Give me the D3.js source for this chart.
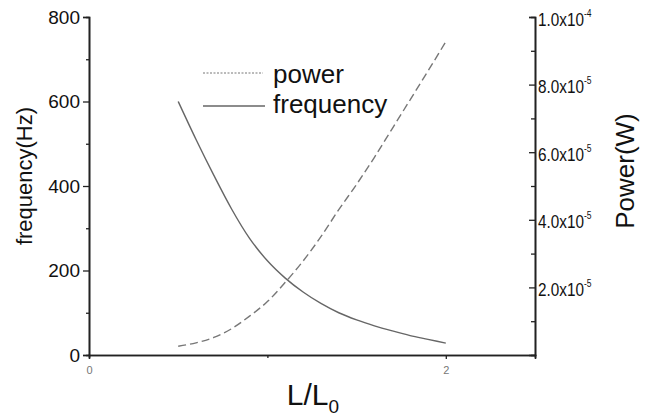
<!DOCTYPE html>
<html>
<head>
<meta charset="utf-8">
<script src="https://cdn.jsdelivr.net/npm/d3@7"></script>
<style>
  body { margin: 0; background: #fff; }
  text { font-family: "Liberation Sans", Arial, sans-serif; }
</style>
</head>
<body>
<div id="chart"></div>
<script>
"use strict"

let svgWidth = 656
let svgHeight = 419

/* data */
let ratio = [0.5, 0.6, 0.7, 0.8, 0.9, 1.0, 1.1, 1.2, 1.3, 1.4, 1.5, 1.6, 1.7, 1.8, 1.9, 2.0]
let frequency = [600, 510, 425, 345, 276, 223, 182, 149, 122, 100, 83, 69, 57, 46, 37, 28]
let power = [2.6e-6, 3.6e-6, 5.2e-6, 7.8e-6, 1.15e-5, 1.58e-5, 2.15e-5, 2.78e-5, 3.5e-5, 4.3e-5,
             5.05e-5, 5.85e-5, 6.7e-5, 7.55e-5, 8.4e-5, 9.27e-5]

let xTicks = [0, 2]
let freqTicks = [0, 200, 400, 600, 800]
let powerTicks = [2e-5, 4e-5, 6e-5, 8e-5, 1e-4]
let powerLabels = [["2.0x10", "-5"], ["4.0x10", "-5"], ["6.0x10", "-5"], ["8.0x10", "-5"], ["1.0x10", "-4"]]

let svg = d3.select("#chart")
  .append("svg")
  .attr("width", svgWidth)
  .attr("height", svgHeight)

/* scales */
let xScale = d3.scaleLinear().domain([0, 2.5]).range([89, 535])
let yFreq = d3.scaleLinear().domain([0, 800]).range([355, 17])
let yPower = d3.scaleLinear().domain([0, 1e-4]).range([355, 17])

let axisColor = "#222"

function styleAxis(g) {
  g.select(".domain").attr("stroke", axisColor).attr("stroke-width", 1.6)
  g.selectAll(".tick line").attr("stroke", axisColor).attr("stroke-width", 1.3)
}

/* minor ticks first so majors sit on top */
svg.append("g")
  .attr("transform", "translate(89,0)")
  .call(d3.axisLeft(yFreq).tickValues([100, 300, 500, 700]).tickSize(3).tickFormat(""))
  .call(styleAxis)

svg.append("g")
  .attr("transform", "translate(535,0)")
  .call(d3.axisRight(yPower).tickValues([1e-5, 3e-5, 5e-5, 7e-5, 9e-5]).tickSize(-4).tickFormat(""))
  .call(styleAxis)

svg.append("g")
  .attr("transform", "translate(0,355)")
  .call(d3.axisBottom(xScale).tickValues([1]).tickSize(3).tickFormat(""))
  .call(styleAxis)

/* left axis */
let leftAxis = svg.append("g")
  .attr("transform", "translate(89,0)")
  .call(d3.axisLeft(yFreq).tickValues(freqTicks).tickSize(6).tickPadding(3))
  .call(styleAxis)

leftAxis.selectAll("text")
  .attr("font-size", "19px")
  .attr("fill", "#111")
  .attr("font-family", "Liberation Sans, Arial, sans-serif")

/* right axis, ticks point inward */
let rightAxis = svg.append("g")
  .attr("transform", "translate(535,0)")
  .call(d3.axisRight(yPower).tickValues(powerTicks).tickSize(-6).tickFormat(""))
  .call(styleAxis)

rightAxis.selectAll(".tick text")
  .attr("x", null)
  .attr("dy", null)
  .attr("transform", "translate(3,8) scale(0.85,1)")
  .attr("font-size", "18px")
  .attr("fill", "#111")
  .attr("font-family", "Liberation Sans, Arial, sans-serif")
  .each(function(d, i) {
    let t = d3.select(this)
    t.append("tspan").text(powerLabels[i][0])
    t.append("tspan")
      .attr("font-size", "10px")
      .attr("dy", -9)
      .text(powerLabels[i][1])
  })

/* bottom axis */
let bottomAxis = svg.append("g")
  .attr("transform", "translate(0,355)")
  .call(d3.axisBottom(xScale).tickValues(xTicks).tickSize(4).tickPadding(7).tickFormat(d3.format("d")))
  .call(styleAxis)

bottomAxis.selectAll("text")
  .attr("font-size", "11px")
  .attr("fill", "#777")
  .attr("font-family", "Liberation Sans, Arial, sans-serif")

/* hide the tick on the left corner */
bottomAxis.selectAll(".tick line").filter(d => d === 0).remove()

/* curves */
let freqLine = d3.line()
  .x((d, i) => xScale(ratio[i]))
  .y(d => yFreq(d))
  .curve(d3.curveMonotoneX)

let powerLine = d3.line()
  .x((d, i) => xScale(ratio[i]))
  .y(d => yPower(d))
  .curve(d3.curveMonotoneX)

svg.append("path")
  .datum(frequency)
  .attr("d", freqLine)
  .attr("fill", "none")
  .attr("stroke", "#666")
  .attr("stroke-width", 1.4)

svg.append("path")
  .datum(power)
  .attr("d", powerLine)
  .attr("fill", "none")
  .attr("stroke", "#777")
  .attr("stroke-width", 1.4)
  .attr("stroke-dasharray", "8,4")

/* axis titles */
svg.append("text")
  .attr("transform", "translate(32,176) rotate(-90)")
  .attr("text-anchor", "middle")
  .attr("font-size", "22px")
  .attr("fill", "#111")
  .text("frequency(Hz)")

svg.append("text")
  .attr("transform", "translate(634,171) rotate(-90)")
  .attr("text-anchor", "middle")
  .attr("font-size", "26px")
  .attr("fill", "#111")
  .text("Power(W)")

let xTitle = svg.append("text")
  .attr("x", 313)
  .attr("y", 405)
  .attr("text-anchor", "middle")
  .attr("font-size", "30px")
  .attr("fill", "#111")
xTitle.append("tspan").text("L/L")
xTitle.append("tspan").attr("font-size", "19px").attr("dy", 8).text("0")

/* legend */
svg.append("line")
  .attr("x1", 203).attr("x2", 263)
  .attr("y1", 73).attr("y2", 73)
  .attr("stroke", "#777")
  .attr("stroke-width", 1)
  .attr("stroke-dasharray", "2,1.5")

svg.append("text")
  .attr("x", 273)
  .attr("y", 83)
  .attr("font-size", "26px")
  .attr("fill", "#111")
  .text("power")

svg.append("line")
  .attr("x1", 203).attr("x2", 265)
  .attr("y1", 106).attr("y2", 106)
  .attr("stroke", "#666")
  .attr("stroke-width", 1.5)

svg.append("text")
  .attr("x", 273)
  .attr("y", 113)
  .attr("font-size", "26px")
  .attr("fill", "#111")
  .text("frequency")
</script>
</body>
</html>
